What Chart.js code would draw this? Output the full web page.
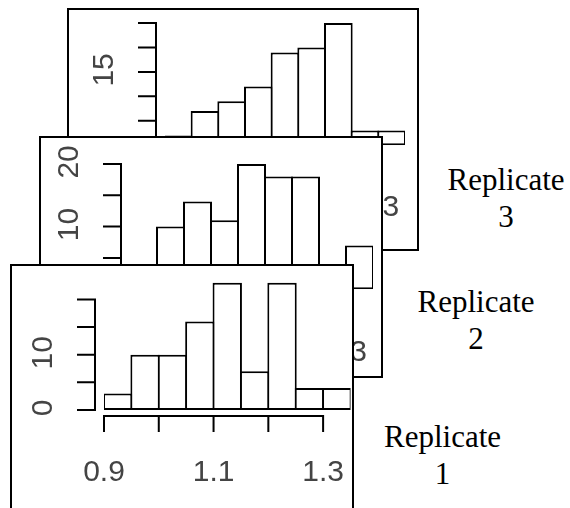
<!DOCTYPE html>
<html>
<head>
<meta charset="utf-8">
<script src="https://cdn.jsdelivr.net/npm/chart.js@4.4.1/dist/chart.umd.min.js"></script>
<style>
html, body { margin: 0; padding: 0; width: 570px; height: 508px; overflow: hidden; background: #fff; }
.panel { position: absolute; box-sizing: border-box; border: 2px solid #000; background: #fff; }
.panel canvas { display: block; }
.lab { position: absolute; width: 140px; text-align: center; color: #000;
       font-family: "Liberation Serif", "Times New Roman", serif; font-size: 31px; line-height: 37px; }
</style>
</head>
<body>
<div class="panel" id="p3"><canvas id="c3"></canvas></div>
<div class="panel" id="p2"><canvas id="c2"></canvas></div>
<div class="panel" id="p1"><canvas id="c1"></canvas></div>
<div class="lab" id="l3"></div>
<div class="lab" id="l2"></div>
<div class="lab" id="l1"></div>
<script>
// ---------- data ----------
const binStarts = [0.90, 0.95, 1.00, 1.05, 1.10, 1.15, 1.20, 1.25, 1.30];
const binWidth = 0.05;
const replicate1 = [3, 10, 10, 16, 23, 7, 23, 4, 4];
const replicate2 = [1, 10, 14, 11, 20, 18, 18, 1, 7];
const replicate3 = [2, 7, 9, 12, 19, 20, 25, 3, 3];
const panelTitles = [["Replicate", "1"], ["Replicate", "2"], ["Replicate", "3"]];
const xTicks = [0.9, 1.0, 1.1, 1.2, 1.3];
const xTickLabels = ["0.9", "", "1.1", "", "1.3"];
const yTicks1 = [0, 5, 10, 15, 20];
const yTickLabels1 = ["0", "", "10", "", ""];
const yTicks2 = [0, 5, 10, 15, 20];
const yTickLabels2 = ["0", "", "10", "", "20"];
const yTicks3 = [0, 5, 10, 15, 20, 25];
const yTickLabels3 = ["0", "", "", "15", "", ""];

// ---------- layout (page pixels) ----------
const panels = [
  { canvas: 'c1', div: 'p1', values: replicate1, yTicks: yTicks1, yLabels: yTickLabels1,
    frame: { left: 10, top: 264, width: 344, height: 250 },
    x0: 104, x1: 350.5, yZero: 410, ppu: 5.53, yMax: 25 },
  { canvas: 'c2', div: 'p2', values: replicate2, yTicks: yTicks2, yLabels: yTickLabels2,
    frame: { left: 39, top: 136, width: 344, height: 242 },
    x0: 130, x1: 373, yZero: 289.3, ppu: 6.27, yMax: 23 },
  { canvas: 'c3', div: 'p3', values: replicate3, yTicks: yTicks3, yLabels: yTickLabels3,
    frame: { left: 67, top: 8, width: 352, height: 243 },
    x0: 165, x1: 405, yZero: 145.2, ppu: 4.885, yMax: 27 }
];
const titlePos = [
  { cx: 442.5, top: 418 },
  { cx: 476, top: 283 },
  { cx: 506, top: 161 }
];

// ---------- R-style axes plugin ----------
const rAxes = {
  id: 'rAxes',
  afterDraw(chart, args, o) {
    const { ctx, chartArea, scales: { x, y } } = chart;
    ctx.save();
    ctx.strokeStyle = '#000';
    ctx.lineWidth = 2;
    ctx.lineCap = 'butt';
    // y axis
    const ax = chartArea.left - o.yGap;
    const yt = o.yTicks;
    ctx.beginPath();
    ctx.moveTo(ax, y.getPixelForValue(yt[0]) + 1);
    ctx.lineTo(ax, y.getPixelForValue(yt[yt.length - 1]) - 1);
    yt.forEach(v => {
      const p = y.getPixelForValue(v);
      ctx.moveTo(ax - o.tickLen, p);
      ctx.lineTo(ax, p);
    });
    // x axis
    const ay = y.getPixelForValue(0) + o.xGap;
    const xt = o.xTicks;
    ctx.moveTo(x.getPixelForValue(xt[0]) - 1, ay);
    ctx.lineTo(x.getPixelForValue(xt[xt.length - 1]) + 1, ay);
    xt.forEach(v => {
      const p = x.getPixelForValue(v);
      ctx.moveTo(p, ay);
      ctx.lineTo(p, ay + o.tickLen - 2);
    });
    ctx.stroke();
    // labels
    ctx.fillStyle = '#444';
    ctx.font = '30px "Liberation Sans", Arial, sans-serif';
    ctx.textAlign = 'center';
    ctx.textBaseline = 'middle';
    yt.forEach((v, i) => {
      const t = o.yLabels[i];
      if (!t) return;
      ctx.save();
      ctx.translate(ax - o.yLabelOff, y.getPixelForValue(v) - 2);
      ctx.rotate(-Math.PI / 2);
      ctx.fillText(t, 0, 0);
      ctx.restore();
    });
    xt.forEach((v, i) => {
      const t = o.xLabels[i];
      if (!t) return;
      ctx.fillText(t, x.getPixelForValue(v), ay + o.xLabelOff);
    });
    ctx.restore();
  }
};

panels.forEach(p => {
  const div = document.getElementById(p.div);
  div.style.left = p.frame.left + 'px';
  div.style.top = p.frame.top + 'px';
  div.style.width = p.frame.width + 'px';
  div.style.height = p.frame.height + 'px';
  const ox = p.frame.left + 2, oy = p.frame.top + 2;
  const cw = p.frame.width - 4, ch = p.frame.height - 4;
  const padding = {
    left: p.x0 - ox,
    right: cw - (p.x1 - ox),
    top: (p.yZero - p.yMax * p.ppu) - oy,
    bottom: ch - (p.yZero - oy)
  };
  const binPx = (p.x1 - p.x0) / binStarts.length;
  new Chart(document.getElementById(p.canvas), {
    type: 'bar',
    data: {
      datasets: [{
        data: binStarts.map((s, i) => ({ x: s + binWidth / 2, y: p.values[i] })),
        backgroundColor: '#fff',
        borderColor: '#000',
        borderWidth: 2,
        borderSkipped: false,
        barThickness: binPx + 2,
        inflateAmount: 0
      }]
    },
    options: {
      responsive: true,
      maintainAspectRatio: false,
      animation: false,
      devicePixelRatio: 1,
      events: [],
      layout: { padding },
      plugins: {
        legend: { display: false },
        tooltip: { enabled: false },
        rAxes: {
          yTicks: p.yTicks, yLabels: p.yLabels,
          xTicks: xTicks, xLabels: xTickLabels,
          yGap: 9, xGap: 6, tickLen: 18, yLabelOff: 51, xLabelOff: 57
        }
      },
      scales: {
        x: { type: 'linear', min: binStarts[0], max: binStarts[binStarts.length - 1] + binWidth,
             offset: false, display: false },
        y: { type: 'linear', min: 0, max: p.yMax, display: false }
      }
    },
    plugins: [rAxes]
  });
});

['l1', 'l2', 'l3'].forEach((id, i) => {
  const el = document.getElementById(id);
  el.innerHTML = panelTitles[i].join('<br>');
  el.style.left = (titlePos[i].cx - 70) + 'px';
  el.style.top = titlePos[i].top + 'px';
});
</script>
</body>
</html>
